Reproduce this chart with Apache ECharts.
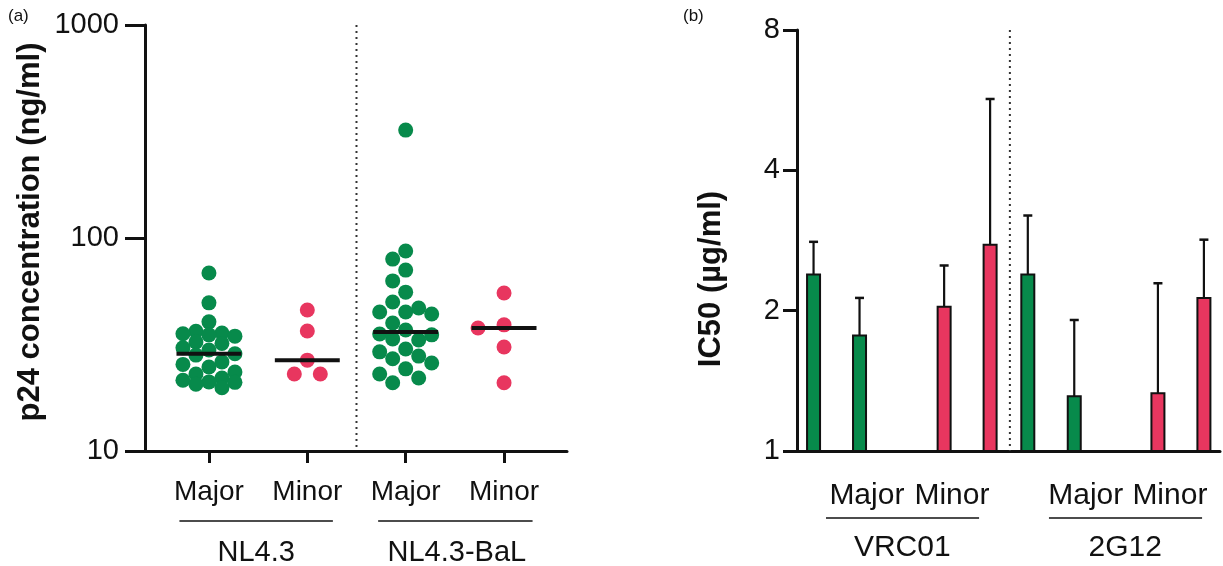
<!DOCTYPE html>
<html>
<head>
<meta charset="utf-8">
<script src="https://cdn.jsdelivr.net/npm/echarts@6/dist/echarts.min.js"></script>
<style>
html,body{margin:0;padding:0;background:#ffffff;}
#c{width:1223px;height:566px;}
</style>
</head>
<body>
<div id="c"></div>
<script>
// ---------------- DATA ----------------
// Panel (a): p24 concentration (ng/ml), log scale
const leftCategories = ['Major', 'Minor', 'Major', 'Minor'];
const leftGroups = ['NL4.3', 'NL4.3-BaL'];
const leftTicks = [10, 100, 1000];
const nl43Major = [68.5, 49.6, 40.4, 36.5, 35.8, 35.5, 35.1, 34.6, 32.5, 32.0, 30.5, 29.8, 28.6,
                   28.2, 26.2, 25.5, 24.8, 23.5, 23.0, 22.0, 21.5, 21.1, 21.0, 20.6, 19.8];
const nl43Minor = [45.9, 36.6, 26.7, 23.0, 23.0];
const balMajor = [321, 86.9, 79.6, 70.7, 62.9, 55.7, 50.1, 46.9, 44.9, 44.9, 44.0, 39.9, 37.0,
                  35.4, 35.1, 33.6, 33.2, 30.1, 29.2, 27.9, 27.1, 25.9, 24.3, 23.0, 22.0, 20.9];
const balMinor = [55.2, 39.1, 37.8, 30.8, 20.9];

// Panel (b): IC50 (µg/ml), log2 scale; bar = mean, err = upper error bar end
const rightGroups = ['VRC01', '2G12'];
const rightCategories = ['Major', 'Minor', 'Major', 'Minor'];
const rightTicks = [1, 2, 4, 8];
const vrc01Major = [2.39, 1.77];
const vrc01MajorErr = [2.81, 2.13];
const vrc01Minor = [2.04, 2.77];
const vrc01MinorErr = [2.50, 5.69];
const g12Major = [2.39, 1.31];
const g12MajorErr = [3.20, 1.91];
const g12Minor = [1.33, 2.13];
const g12MinorErr = [2.29, 2.84];

// ---------------- LAYOUT / STYLE ----------------
const FONT = '"Liberation Sans", Arial, Helvetica, sans-serif';
const GREEN = '#078a4b';
const PINK = '#e8365f';
const INK = '#111111';
const leftX = [1, 2, 3, 4];
const leftSep = 2.5;
const rightBarPos = {vrcMaj: [0, 1], vrcMin: [2.84, 3.84], g12Maj: [4.66, 5.67], g12Min: [7.49, 8.49]};
const rightLabelPos = [1.16, 3.01, 5.92, 7.75];
const rightSep = 4.27;

function median(arr) {
  const s = arr.slice().sort((a, b) => a - b);
  const n = s.length;
  return n % 2 ? s[(n - 1) / 2] : (s[n / 2 - 1] + s[n / 2]) / 2;
}

const leftSets = [
  {x: leftX[0], values: nl43Major, color: GREEN},
  {x: leftX[1], values: nl43Minor, color: PINK},
  {x: leftX[2], values: balMajor, color: GREEN},
  {x: leftX[3], values: balMinor, color: PINK}
];

const greenBars = [
  [rightBarPos.vrcMaj[0], vrc01Major[0], vrc01MajorErr[0]],
  [rightBarPos.vrcMaj[1], vrc01Major[1], vrc01MajorErr[1]],
  [rightBarPos.g12Maj[0], g12Major[0], g12MajorErr[0]],
  [rightBarPos.g12Maj[1], g12Major[1], g12MajorErr[1]]
];
const pinkBars = [
  [rightBarPos.vrcMin[0], vrc01Minor[0], vrc01MinorErr[0]],
  [rightBarPos.vrcMin[1], vrc01Minor[1], vrc01MinorErr[1]],
  [rightBarPos.g12Min[0], g12Minor[0], g12MinorErr[0]],
  [rightBarPos.g12Min[1], g12Minor[1], g12MinorErr[1]]
];

function barRenderer(color) {
  return function (params, api) {
    const x = api.value(0), v = api.value(1), e = api.value(2);
    const base = api.coord([x, 1]);
    const top = api.coord([x, v]);
    const et = api.coord([x, e]);
    const w = 13;
    return {
      type: 'group',
      children: [
        {type: 'line', shape: {x1: top[0], y1: top[1], x2: et[0], y2: et[1]}, style: {stroke: INK, lineWidth: 2.2}},
        {type: 'line', shape: {x1: et[0] - 4.5, y1: et[1], x2: et[0] + 4.5, y2: et[1]}, style: {stroke: INK, lineWidth: 2.5}},
        {type: 'rect', shape: {x: top[0] - w / 2, y: top[1], width: w, height: base[1] - top[1]},
         style: {fill: color, stroke: INK, lineWidth: 2}}
      ]
    };
  };
}

function sepRenderer(params, api) {
  const cs = params.coordSys;
  const p = api.coord([api.value(0), api.value(1)]);
  return {
    type: 'line',
    shape: {x1: p[0], y1: cs.y, x2: p[0], y2: cs.y + cs.height},
    style: {stroke: '#333', lineWidth: 2, lineDash: [2, 4]}
  };
}

const axisLineStyle = {show: true, onZero: false, lineStyle: {color: INK, width: 3}};

const chart = echarts.init(document.getElementById('c'), null, {renderer: 'canvas'});

const option = {
  animation: false,
  backgroundColor: '#ffffff',
  textStyle: {fontFamily: FONT},
  grid: [
    {left: 145, top: 25, width: 422, height: 426},
    {left: 797, top: 30, width: 423, height: 421}
  ],
  xAxis: [
    {
      gridIndex: 0, type: 'value', min: 0.35, max: 4.64,
      splitLine: {show: false},
      axisLine: axisLineStyle,
      axisTick: {show: true, customValues: leftX, length: 12, lineStyle: {color: INK, width: 3}},
      axisLabel: {
        customValues: leftX,
        formatter: (v) => leftCategories[Math.round(v) - 1],
        fontSize: 28, color: INK, margin: 27, fontFamily: FONT
      }
    },
    {
      gridIndex: 1, type: 'value', min: -0.36, max: 8.84,
      splitLine: {show: false},
      axisLine: axisLineStyle,
      axisTick: {show: false},
      axisLabel: {
        customValues: rightLabelPos,
        formatter: (v) => {
          let best = 0;
          rightLabelPos.forEach((p, i) => { if (Math.abs(p - v) < Math.abs(rightLabelPos[best] - v)) best = i; });
          return rightCategories[best];
        },
        fontSize: 30, color: INK, margin: 30, fontFamily: FONT
      }
    }
  ],
  yAxis: [
    {
      gridIndex: 0, type: 'log', logBase: 10, min: leftTicks[0], max: leftTicks[leftTicks.length - 1],
      splitLine: {show: false}, minorTick: {show: false},
      axisLine: axisLineStyle,
      axisTick: {show: true, length: 20, lineStyle: {color: INK, width: 3}},
      axisLabel: {fontSize: 29, color: INK, margin: 26, fontFamily: FONT, formatter: (v) => String(Math.round(v))}
    },
    {
      gridIndex: 1, type: 'log', logBase: 2, min: rightTicks[0], max: rightTicks[rightTicks.length - 1],
      splitLine: {show: false}, minorTick: {show: false},
      axisLine: axisLineStyle,
      axisTick: {show: true, length: 14, lineStyle: {color: INK, width: 3}},
      axisLabel: {fontSize: 29, color: INK, margin: 17, fontFamily: FONT, formatter: (v) => String(Math.round(v))}
    }
  ],
  series: [
    {type: 'custom', xAxisIndex: 0, yAxisIndex: 0, renderItem: sepRenderer, data: [[leftSep, 100]], silent: true, z: 1},
    {type: 'custom', xAxisIndex: 1, yAxisIndex: 1, renderItem: sepRenderer, data: [[rightSep, 2]], silent: true, z: 1}
  ].concat(leftSets.map((s, i) => ({
    type: 'scatter', name: 'set' + i, xAxisIndex: 0, yAxisIndex: 0,
    symbol: 'circle', symbolSize: 15, itemStyle: {color: s.color, opacity: 1},
    data: [], z: 3
  }))).concat([
    {
      type: 'custom', xAxisIndex: 0, yAxisIndex: 0, z: 5,
      data: leftSets.map(s => [s.x, median(s.values)]),
      renderItem: (params, api) => {
        const a = api.coord([api.value(0) - 0.33, api.value(1)]);
        const b = api.coord([api.value(0) + 0.33, api.value(1)]);
        return {type: 'line', shape: {x1: a[0], y1: a[1], x2: b[0], y2: b[1]}, style: {stroke: INK, lineWidth: 4}};
      }
    },
    {type: 'custom', xAxisIndex: 1, yAxisIndex: 1, renderItem: barRenderer(GREEN), data: greenBars, z: 3},
    {type: 'custom', xAxisIndex: 1, yAxisIndex: 1, renderItem: barRenderer(PINK), data: pinkBars, z: 3}
  ])
};

chart.setOption(option);

// Beeswarm layout computed from the axis scale (columns limited to +-2 steps)
function swarm(values, xc, step, minDist, maxK) {
  const p0 = chart.convertToPixel({gridIndex: 0}, [xc, 100]);
  const p1 = chart.convertToPixel({gridIndex: 0}, [xc + 1, 100]);
  const unit = p1[0] - p0[0];
  const pts = values.map(v => ({v: v, py: chart.convertToPixel({gridIndex: 0}, [xc, v])[1], dx: 0}));
  pts.sort((a, b) => a.py - b.py);
  const placed = [];
  const cands = [0];
  for (let k = 1; k <= maxK; k++) { cands.push(-k, k); }
  pts.forEach(p => {
    let chosen = null, bestD = -1, bestDx = 0;
    for (const c of cands) {
      const dx = c * step;
      let md = Infinity;
      placed.forEach(q => { md = Math.min(md, Math.hypot(q.dx - dx, q.py - p.py)); });
      if (md >= minDist) { chosen = dx; break; }
      if (md > bestD + 0.5) { bestD = md; bestDx = dx; }
    }
    p.dx = chosen !== null ? chosen : bestDx;
    placed.push(p);
  });
  return placed.map(p => [xc + p.dx / unit, p.v]);
}

const seriesUpdate = [{}, {}].concat(leftSets.map(s => ({data: swarm(s.values, s.x, 13, 14.5, 2)})));

// Decorations: group underlines & labels, panel letters, axis titles
function px(grid, x, y) { return chart.convertToPixel({gridIndex: grid}, [x, y]); }
const graphics = [];
function underline(grid, x0, x1, y) {
  const a = px(grid, x0, grid === 0 ? 10 : 1), b = px(grid, x1, grid === 0 ? 10 : 1);
  graphics.push({type: 'line', shape: {x1: a[0], y1: y, x2: b[0], y2: y}, style: {stroke: INK, lineWidth: 1.5}});
}
function groupLabel(grid, xc, y, text, size) {
  const a = px(grid, xc, grid === 0 ? 10 : 1);
  graphics.push({type: 'text', x: a[0], y: y, style: {text: text, fontSize: size, fontFamily: FONT, fill: INK, align: 'center', verticalAlign: 'middle'}});
}
underline(0, 0.70, 2.26, 521);
underline(0, 2.72, 4.29, 521);
groupLabel(0, 1.48, 553, leftGroups[0], 29);
groupLabel(0, 3.52, 553, leftGroups[1], 29);
underline(1, 0.27, 3.60, 518);
underline(1, 5.12, 8.45, 518);
groupLabel(1, 1.93, 548, rightGroups[0], 30);
groupLabel(1, 6.78, 548, rightGroups[1], 30);

graphics.push({type: 'text', left: 8, top: 8, style: {text: '(a)', fontSize: 17, fontFamily: FONT, fill: INK}});
graphics.push({type: 'text', left: 683, top: 8, style: {text: '(b)', fontSize: 17, fontFamily: FONT, fill: INK}});
graphics.push({type: 'text', x: 30, y: 232, rotation: Math.PI / 2,
  style: {text: 'p24 concentration (ng/ml)', fontSize: 31, fontWeight: 'bold', fontFamily: FONT, fill: INK, align: 'center', verticalAlign: 'middle'}});
graphics.push({type: 'text', x: 711, y: 279, rotation: Math.PI / 2,
  style: {text: 'IC50 (µg/ml)', fontSize: 31, fontWeight: 'bold', fontFamily: FONT, fill: INK, align: 'center', verticalAlign: 'middle'}});

chart.setOption({series: seriesUpdate, graphic: graphics});
</script>
</body>
</html>
